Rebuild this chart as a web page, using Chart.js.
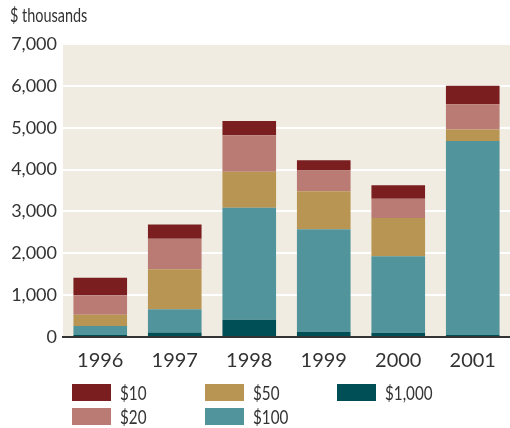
<!DOCTYPE html>
<html>
<head>
<meta charset="utf-8">
<script src="https://cdn.jsdelivr.net/npm/chart.js@4"></script>
<style>
  html, body { margin: 0; padding: 0; background: #fff; }
  #wrap { position: relative; width: 510px; height: 428px; }
  #unit {
    position: absolute; left: 10px; top: 3px;
    font-family: "Lato", sans-serif; font-size: 19px; color: #333;
    transform: scaleX(0.76); transform-origin: left top; white-space: nowrap;
  }
  .leg { position: absolute; display: flex; align-items: center;
    font-family: "Lato", sans-serif; font-size: 19px; color: #333; white-space: nowrap; }
  .leg span.sw { display: inline-block; width: 39px; height: 17px; margin-right: 9px; }
  .leg span.tx { display: inline-block; transform: scaleX(0.8); transform-origin: left center; }
</style>
</head>
<body>
<div id="wrap">
  <canvas id="chart" width="510" height="428"></canvas>
  <div id="unit">$ thousands</div>
  <div id="legend"></div>
</div>
<script>
// years on the x axis
const years = ["1996", "1997", "1998", "1999", "2000", "2001"];

// values in $ thousands, per denomination
const d1000 = [50, 110, 415, 125, 100, 50];
const d100  = [215, 555, 2670, 2450, 1830, 4630];
const d50   = [265, 955, 860, 905, 915, 280];
const d20   = [470, 730, 875, 495, 460, 600];
const d10   = [415, 340, 340, 245, 320, 440];

const yTicks = [0, 1000, 2000, 3000, 4000, 5000, 6000, 7000];

const series = [
  { label: "$1,000", data: d1000, color: "#004f57" },
  { label: "$100",   data: d100,  color: "#52949c" },
  { label: "$50",    data: d50,   color: "#b89552" },
  { label: "$20",    data: d20,   color: "#b97b74" },
  { label: "$10",    data: d10,   color: "#7a1e1f" }
];

// legend is laid out in columns: $10/$20, $50/$100, $1,000
const legendSlots = [
  { label: "$10",    x: 72,  y: 384 },
  { label: "$20",    x: 72,  y: 408 },
  { label: "$50",    x: 205, y: 384 },
  { label: "$100",   x: 205, y: 408 },
  { label: "$1,000", x: 337, y: 384 }
];

const plotBg = {
  id: "plotBg",
  beforeDraw(chart) {
    const { ctx, chartArea: a } = chart;
    ctx.save();
    ctx.fillStyle = "#f0ece2";
    ctx.fillRect(a.left, a.top, a.right - a.left, a.bottom - a.top);
    ctx.restore();
  }
};

new Chart(document.getElementById("chart"), {
  type: "bar",
  data: {
    labels: years,
    datasets: series.map(s => ({
      label: s.label,
      data: s.data,
      backgroundColor: s.color,
      borderWidth: 0,
      barPercentage: 0.72,
      categoryPercentage: 1
    }))
  },
  plugins: [plotBg],
  options: {
    responsive: false,
    animation: false,
    layout: { padding: { top: 44, right: 0, bottom: 56, left: 0 } },
    plugins: { legend: { display: false }, tooltip: { enabled: false } },
    scales: {
      x: {
        stacked: true,
        grid: { display: false },
        border: { color: "#333", width: 2 },
        ticks: { color: "#333", padding: 4, font: { family: "Lato", size: 20 } },
        afterFit: (axis) => { axis.height = 35; }
      },
      y: {
        stacked: true,
        min: 0,
        max: 7000,
        afterBuildTicks: (axis) => { axis.ticks = yTicks.map(v => ({ value: v })); },
        grid: { color: "#ffffff", lineWidth: 2, drawTicks: false },
        border: { display: false },
        ticks: {
          color: "#333",
          padding: 6,
          font: { family: "Lato", size: 18 },
          callback: (v) => v.toLocaleString("en-US")
        },
        afterFit: (axis) => { axis.width = 63; }
      }
    }
  }
});

const legendEl = document.getElementById("legend");
legendSlots.forEach(slot => {
  const s = series.find(x => x.label === slot.label);
  const div = document.createElement("div");
  div.className = "leg";
  div.style.left = slot.x + "px";
  div.style.top = slot.y + "px";
  div.style.height = "17px";
  div.innerHTML = `<span class="sw" style="background:${s.color}"></span><span class="tx">${s.label}</span>`;
  legendEl.appendChild(div);
});
</script>
</body>
</html>
